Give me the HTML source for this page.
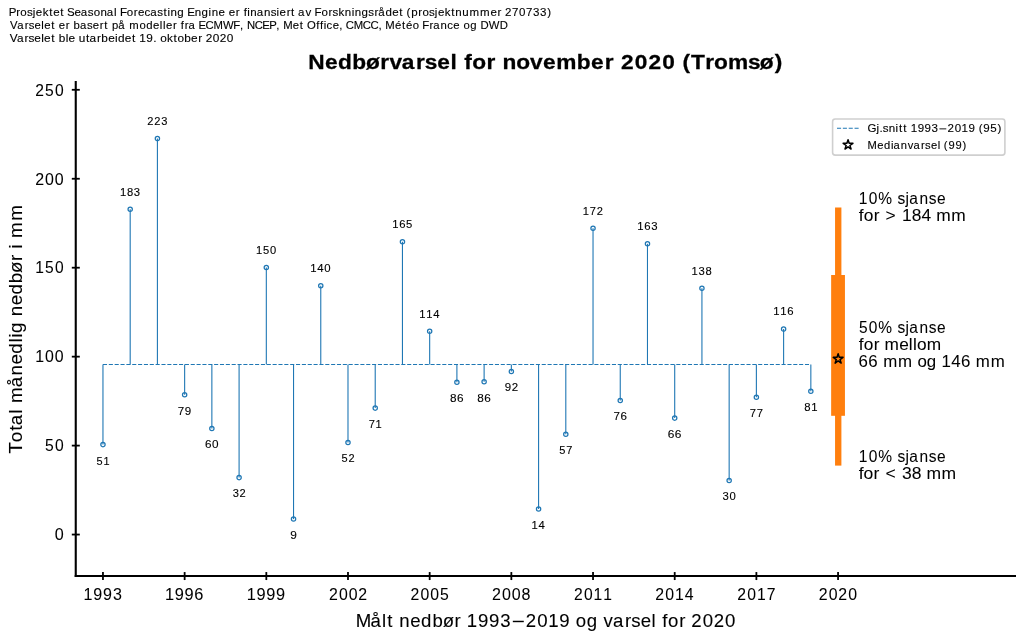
<!DOCTYPE html>
<html><head><meta charset="utf-8"><style>
html,body{margin:0;padding:0;background:#fff;}
svg{display:block;will-change:transform;}
text{font-family:"Liberation Sans", sans-serif;fill:#000;}
</style></head><body>
<svg width="1023" height="639" viewBox="0 0 1023 639">
<rect width="1023" height="639" fill="#fff"/>
<line x1="102.96" y1="364.5" x2="810.84" y2="364.5" stroke="#1f77b4" stroke-width="1.1" stroke-dasharray="4.08 1.77"/>
<line x1="102.96" y1="364.5" x2="102.96" y2="444.60" stroke="#1f77b4" stroke-width="1.1"/>
<line x1="130.19" y1="364.5" x2="130.19" y2="209.30" stroke="#1f77b4" stroke-width="1.1"/>
<line x1="157.41" y1="364.5" x2="157.41" y2="138.60" stroke="#1f77b4" stroke-width="1.1"/>
<line x1="184.64" y1="364.5" x2="184.64" y2="394.80" stroke="#1f77b4" stroke-width="1.1"/>
<line x1="211.86" y1="364.5" x2="211.86" y2="428.50" stroke="#1f77b4" stroke-width="1.1"/>
<line x1="239.09" y1="364.5" x2="239.09" y2="477.60" stroke="#1f77b4" stroke-width="1.1"/>
<line x1="266.32" y1="364.5" x2="266.32" y2="267.40" stroke="#1f77b4" stroke-width="1.1"/>
<line x1="293.54" y1="364.5" x2="293.54" y2="519.10" stroke="#1f77b4" stroke-width="1.1"/>
<line x1="320.77" y1="364.5" x2="320.77" y2="285.80" stroke="#1f77b4" stroke-width="1.1"/>
<line x1="347.99" y1="364.5" x2="347.99" y2="442.50" stroke="#1f77b4" stroke-width="1.1"/>
<line x1="375.22" y1="364.5" x2="375.22" y2="408.10" stroke="#1f77b4" stroke-width="1.1"/>
<line x1="402.45" y1="364.5" x2="402.45" y2="241.70" stroke="#1f77b4" stroke-width="1.1"/>
<line x1="429.67" y1="364.5" x2="429.67" y2="331.20" stroke="#1f77b4" stroke-width="1.1"/>
<line x1="456.90" y1="364.5" x2="456.90" y2="382.20" stroke="#1f77b4" stroke-width="1.1"/>
<line x1="484.12" y1="364.5" x2="484.12" y2="381.80" stroke="#1f77b4" stroke-width="1.1"/>
<line x1="511.35" y1="364.5" x2="511.35" y2="371.50" stroke="#1f77b4" stroke-width="1.1"/>
<line x1="538.58" y1="364.5" x2="538.58" y2="508.90" stroke="#1f77b4" stroke-width="1.1"/>
<line x1="565.80" y1="364.5" x2="565.80" y2="434.20" stroke="#1f77b4" stroke-width="1.1"/>
<line x1="593.03" y1="364.5" x2="593.03" y2="228.30" stroke="#1f77b4" stroke-width="1.1"/>
<line x1="620.25" y1="364.5" x2="620.25" y2="400.40" stroke="#1f77b4" stroke-width="1.1"/>
<line x1="647.48" y1="364.5" x2="647.48" y2="243.80" stroke="#1f77b4" stroke-width="1.1"/>
<line x1="674.71" y1="364.5" x2="674.71" y2="418.10" stroke="#1f77b4" stroke-width="1.1"/>
<line x1="701.93" y1="364.5" x2="701.93" y2="288.20" stroke="#1f77b4" stroke-width="1.1"/>
<line x1="729.16" y1="364.5" x2="729.16" y2="480.50" stroke="#1f77b4" stroke-width="1.1"/>
<line x1="756.38" y1="364.5" x2="756.38" y2="397.20" stroke="#1f77b4" stroke-width="1.1"/>
<line x1="783.61" y1="364.5" x2="783.61" y2="329.10" stroke="#1f77b4" stroke-width="1.1"/>
<line x1="810.84" y1="364.5" x2="810.84" y2="391.20" stroke="#1f77b4" stroke-width="1.1"/>
<circle cx="102.96" cy="444.60" r="2.15" fill="none" stroke="#1f77b4" stroke-width="1.25"/>
<circle cx="130.19" cy="209.30" r="2.15" fill="none" stroke="#1f77b4" stroke-width="1.25"/>
<circle cx="157.41" cy="138.60" r="2.15" fill="none" stroke="#1f77b4" stroke-width="1.25"/>
<circle cx="184.64" cy="394.80" r="2.15" fill="none" stroke="#1f77b4" stroke-width="1.25"/>
<circle cx="211.86" cy="428.50" r="2.15" fill="none" stroke="#1f77b4" stroke-width="1.25"/>
<circle cx="239.09" cy="477.60" r="2.15" fill="none" stroke="#1f77b4" stroke-width="1.25"/>
<circle cx="266.32" cy="267.40" r="2.15" fill="none" stroke="#1f77b4" stroke-width="1.25"/>
<circle cx="293.54" cy="519.10" r="2.15" fill="none" stroke="#1f77b4" stroke-width="1.25"/>
<circle cx="320.77" cy="285.80" r="2.15" fill="none" stroke="#1f77b4" stroke-width="1.25"/>
<circle cx="347.99" cy="442.50" r="2.15" fill="none" stroke="#1f77b4" stroke-width="1.25"/>
<circle cx="375.22" cy="408.10" r="2.15" fill="none" stroke="#1f77b4" stroke-width="1.25"/>
<circle cx="402.45" cy="241.70" r="2.15" fill="none" stroke="#1f77b4" stroke-width="1.25"/>
<circle cx="429.67" cy="331.20" r="2.15" fill="none" stroke="#1f77b4" stroke-width="1.25"/>
<circle cx="456.90" cy="382.20" r="2.15" fill="none" stroke="#1f77b4" stroke-width="1.25"/>
<circle cx="484.12" cy="381.80" r="2.15" fill="none" stroke="#1f77b4" stroke-width="1.25"/>
<circle cx="511.35" cy="371.50" r="2.15" fill="none" stroke="#1f77b4" stroke-width="1.25"/>
<circle cx="538.58" cy="508.90" r="2.15" fill="none" stroke="#1f77b4" stroke-width="1.25"/>
<circle cx="565.80" cy="434.20" r="2.15" fill="none" stroke="#1f77b4" stroke-width="1.25"/>
<circle cx="593.03" cy="228.30" r="2.15" fill="none" stroke="#1f77b4" stroke-width="1.25"/>
<circle cx="620.25" cy="400.40" r="2.15" fill="none" stroke="#1f77b4" stroke-width="1.25"/>
<circle cx="647.48" cy="243.80" r="2.15" fill="none" stroke="#1f77b4" stroke-width="1.25"/>
<circle cx="674.71" cy="418.10" r="2.15" fill="none" stroke="#1f77b4" stroke-width="1.25"/>
<circle cx="701.93" cy="288.20" r="2.15" fill="none" stroke="#1f77b4" stroke-width="1.25"/>
<circle cx="729.16" cy="480.50" r="2.15" fill="none" stroke="#1f77b4" stroke-width="1.25"/>
<circle cx="756.38" cy="397.20" r="2.15" fill="none" stroke="#1f77b4" stroke-width="1.25"/>
<circle cx="783.61" cy="329.10" r="2.15" fill="none" stroke="#1f77b4" stroke-width="1.25"/>
<circle cx="810.84" cy="391.20" r="2.15" fill="none" stroke="#1f77b4" stroke-width="1.25"/>
<rect x="835.05" y="207.5" width="6.35" height="258.10" fill="#ff7f0e"/>
<rect x="831.15" y="275.0" width="13.8" height="140.80" fill="#ff7f0e"/>
<polygon points="838.15,353.80 839.31,357.36 843.05,357.36 840.02,359.56 841.18,363.12 838.15,360.92 835.12,363.12 836.28,359.56 833.25,357.36 836.99,357.36" fill="none" stroke="#000" stroke-width="1.5" stroke-linejoin="round"/>
<line x1="75.75" y1="81" x2="75.75" y2="577.1" stroke="#000" stroke-width="2.1"/>
<line x1="74.7" y1="576.05" x2="1016" y2="576.05" stroke="#000" stroke-width="2.1"/>
<line x1="71.8" y1="534.55" x2="79.8" y2="534.55" stroke="#000" stroke-width="1.8"/>
<line x1="71.8" y1="445.60" x2="79.8" y2="445.60" stroke="#000" stroke-width="1.8"/>
<line x1="71.8" y1="356.65" x2="79.8" y2="356.65" stroke="#000" stroke-width="1.8"/>
<line x1="71.8" y1="267.70" x2="79.8" y2="267.70" stroke="#000" stroke-width="1.8"/>
<line x1="71.8" y1="178.75" x2="79.8" y2="178.75" stroke="#000" stroke-width="1.8"/>
<line x1="71.8" y1="89.80" x2="79.8" y2="89.80" stroke="#000" stroke-width="1.8"/>
<line x1="102.96" y1="572.05" x2="102.96" y2="580.05" stroke="#000" stroke-width="1.8"/>
<line x1="184.64" y1="572.05" x2="184.64" y2="580.05" stroke="#000" stroke-width="1.8"/>
<line x1="266.32" y1="572.05" x2="266.32" y2="580.05" stroke="#000" stroke-width="1.8"/>
<line x1="347.99" y1="572.05" x2="347.99" y2="580.05" stroke="#000" stroke-width="1.8"/>
<line x1="429.67" y1="572.05" x2="429.67" y2="580.05" stroke="#000" stroke-width="1.8"/>
<line x1="511.35" y1="572.05" x2="511.35" y2="580.05" stroke="#000" stroke-width="1.8"/>
<line x1="593.03" y1="572.05" x2="593.03" y2="580.05" stroke="#000" stroke-width="1.8"/>
<line x1="674.71" y1="572.05" x2="674.71" y2="580.05" stroke="#000" stroke-width="1.8"/>
<line x1="756.38" y1="572.05" x2="756.38" y2="580.05" stroke="#000" stroke-width="1.8"/>
<line x1="838.06" y1="572.05" x2="838.06" y2="580.05" stroke="#000" stroke-width="1.8"/>
<rect x="832.6" y="119.05" width="172.3" height="36.05" rx="2.6" ry="2.6" fill="#ffffff" fill-opacity="0.8" stroke="#cfcfcf" stroke-width="1.6"/>
<line x1="837.0" y1="128.3" x2="858.9" y2="128.3" stroke="#1f77b4" stroke-width="1.1" stroke-dasharray="4.08 1.77"/>
<polygon points="848.05,139.75 849.21,143.31 852.95,143.31 849.92,145.51 851.08,149.07 848.05,146.87 845.02,149.07 846.18,145.51 843.15,143.31 846.89,143.31" fill="none" stroke="#000" stroke-width="1.5" stroke-linejoin="round"/>
<text transform="translate(9.13 15.50) scale(1.0051 1)" x="-0.37 7.09 11.17 17.72 23.50 26.54 33.42 39.86 43.80 50.82 54.57 57.71 65.11 71.35 78.33 84.09 90.88 97.23 104.40 107.18 110.24 117.03 124.08 128.19 134.70 140.42 147.39 153.53 157.52 160.58 167.39 174.10 177.12 184.70 191.51 198.46 201.52 208.31 214.82 218.45 225.50 229.44 233.36 236.97 240.02 246.37 253.58 260.24 266.10 269.06 276.10 280.55 284.31 287.49 294.78 300.86 303.92 310.71 317.76 321.74 327.73 333.94 340.79 343.85 350.66 357.41 363.57 367.23 374.36 381.25 388.27 392.03 395.40 400.05 407.16 411.24 417.79 423.57 426.61 433.49 439.93 443.97 450.81 458.02 468.61 478.84 485.88 489.82 493.40 500.44 507.38 514.28 521.23 528.15 535.29" y="0" font-size="11.48" stroke="#000" stroke-width="0.120">Prosjektet Seasonal Forecasting Engine er finansiert av Forskningsrådet (prosjektnummer 270733)</text>
<text transform="translate(9.91 29.40) scale(0.9868 1)" x="-0.04 7.37 14.95 19.01 24.93 31.77 34.82 41.94 45.74 49.50 56.66 60.63 64.54 70.97 78.06 83.97 91.13 95.65 99.45 103.36 109.79 116.78 120.95 131.29 138.13 145.14 151.98 155.06 158.11 165.27 169.24 173.26 177.24 181.00 188.00 191.16 198.18 206.25 215.87 226.42 233.18 236.65 240.17 248.12 255.83 262.89 269.92 273.39 276.91 286.70 293.83 297.62 301.04 310.36 314.26 317.93 320.78 327.07 333.69 337.16 340.34 348.42 357.63 365.37 373.49 376.96 380.48 390.28 397.40 401.43 408.21 414.79 417.97 425.26 429.02 436.36 443.08 449.37 455.94 459.66 466.50 473.27 476.93 485.38 496.41" y="0" font-size="11.48" stroke="#000" stroke-width="0.120">Varselet er basert på modeller fra ECMWF, NCEP, Met Office, CMCC, Météo France og DWD</text>
<text transform="translate(9.91 41.50) scale(1.0300 1)" x="-0.20 6.91 14.23 18.10 23.75 30.38 33.23 40.12 43.82 47.43 54.13 56.97 63.41 66.93 73.96 77.32 84.64 88.77 95.36 102.00 104.86 111.58 118.47 122.17 125.67 132.44 139.13 142.42 145.85 152.56 158.89 162.65 169.32 175.92 182.82 186.71 190.13 197.02 203.63 210.52" y="0" font-size="11.48" stroke="#000" stroke-width="0.120">Varselet ble utarbeidet 19. oktober 2020</text>
<text transform="translate(308.19 68.75) scale(1.0981 1)" x="0.04 15.22 27.15 40.16 52.64 65.69 74.03 85.22 98.29 106.21 117.42 129.55 135.48 142.22 149.35 162.41 170.65 176.96 189.48 202.05 213.85 225.91 244.63 257.49 270.01 278.24 284.95 297.44 309.88 322.37 334.33 340.77 348.55 361.57 369.65 382.26 400.47 411.29 424.86" y="0" font-size="20.65" font-weight="bold" stroke="#000" stroke-width="0.270">Nedbørvarsel for november 2020 (Tromsø)</text>
<text transform="translate(96.09 464.80) scale(0.9529 1)" x="0.41 7.70" y="0" font-size="11.48" stroke="#000" stroke-width="0.120">51</text>
<text transform="translate(119.59 196.00) scale(0.9798 1)" x="0.30 7.45 14.56" y="0" font-size="11.48" stroke="#000" stroke-width="0.120">183</text>
<text transform="translate(147.02 124.90) scale(0.9665 1)" x="0.25 7.45 14.81" y="0" font-size="11.48" stroke="#000" stroke-width="0.120">223</text>
<text transform="translate(177.62 414.60) scale(1.0097 1)" x="0.23 7.10" y="0" font-size="11.48" stroke="#000" stroke-width="0.120">79</text>
<text transform="translate(204.89 448.20) scale(1.0212 1)" x="0.21 7.02" y="0" font-size="11.48" stroke="#000" stroke-width="0.120">60</text>
<text transform="translate(232.27 497.30) scale(0.9659 1)" x="0.42 7.46" y="0" font-size="11.48" stroke="#000" stroke-width="0.120">32</text>
<text transform="translate(255.65 253.90) scale(0.9705 1)" x="0.33 7.51 14.72" y="0" font-size="11.48" stroke="#000" stroke-width="0.120">150</text>
<text transform="translate(290.11 538.80) scale(1.0369 1)" x="0.13" y="0" font-size="11.48" stroke="#000" stroke-width="0.120">9</text>
<text transform="translate(310.10 271.90) scale(0.9902 1)" x="0.26 7.34 14.36" y="0" font-size="11.48" stroke="#000" stroke-width="0.120">140</text>
<text transform="translate(341.17 462.20) scale(0.9574 1)" x="0.39 7.55" y="0" font-size="11.48" stroke="#000" stroke-width="0.120">52</text>
<text transform="translate(368.32 428.10) scale(0.9708 1)" x="0.37 7.50" y="0" font-size="11.48" stroke="#000" stroke-width="0.120">71</text>
<text transform="translate(391.89 228.20) scale(0.9820 1)" x="0.29 7.43 14.47" y="0" font-size="11.48" stroke="#000" stroke-width="0.120">165</text>
<text transform="translate(418.95 318.00) scale(0.9755 1)" x="0.31 7.44 14.63" y="0" font-size="11.48" stroke="#000" stroke-width="0.120">114</text>
<text transform="translate(449.92 401.90) scale(1.0268 1)" x="0.19 6.96" y="0" font-size="11.48" stroke="#000" stroke-width="0.120">86</text>
<text transform="translate(477.14 401.50) scale(1.0268 1)" x="0.19 6.96" y="0" font-size="11.48" stroke="#000" stroke-width="0.120">86</text>
<text transform="translate(504.60 390.90) scale(1.0026 1)" x="0.24 7.07" y="0" font-size="11.48" stroke="#000" stroke-width="0.120">92</text>
<text transform="translate(531.33 528.90) scale(0.9832 1)" x="0.29 7.41" y="0" font-size="11.48" stroke="#000" stroke-width="0.120">14</text>
<text transform="translate(558.89 454.00) scale(0.9644 1)" x="0.37 7.60" y="0" font-size="11.48" stroke="#000" stroke-width="0.120">57</text>
<text transform="translate(582.54 215.20) scale(0.9697 1)" x="0.34 7.54 14.59" y="0" font-size="11.48" stroke="#000" stroke-width="0.120">172</text>
<text transform="translate(613.20 419.90) scale(1.0108 1)" x="0.22 7.13" y="0" font-size="11.48" stroke="#000" stroke-width="0.120">76</text>
<text transform="translate(636.89 229.80) scale(0.9878 1)" x="0.27 7.37 14.42" y="0" font-size="11.48" stroke="#000" stroke-width="0.120">163</text>
<text transform="translate(667.71 437.80) scale(1.0391 1)" x="0.15 6.84" y="0" font-size="11.48" stroke="#000" stroke-width="0.120">66</text>
<text transform="translate(691.27 274.90) scale(0.9798 1)" x="0.30 7.47 14.55" y="0" font-size="11.48" stroke="#000" stroke-width="0.120">138</text>
<text transform="translate(722.15 500.00) scale(0.9841 1)" x="0.35 7.41" y="0" font-size="11.48" stroke="#000" stroke-width="0.120">30</text>
<text transform="translate(749.45 416.70) scale(0.9820 1)" x="0.32 7.41" y="0" font-size="11.48" stroke="#000" stroke-width="0.120">77</text>
<text transform="translate(772.92 315.30) scale(0.9868 1)" x="0.27 7.32 14.42" y="0" font-size="11.48" stroke="#000" stroke-width="0.120">116</text>
<text transform="translate(804.02 410.80) scale(0.9880 1)" x="0.33 7.31" y="0" font-size="11.48" stroke="#000" stroke-width="0.120">81</text>
<text transform="translate(54.38 540.30) scale(1.0039 1)" x="0.38" y="0" font-size="16.07" stroke="#000" stroke-width="0.050">0</text>
<text transform="translate(44.65 451.35) scale(0.9758 1)" x="0.46 10.49" y="0" font-size="16.07" stroke="#000" stroke-width="0.050">50</text>
<text transform="translate(34.91 362.40) scale(0.9899 1)" x="0.37 10.28 20.11" y="0" font-size="16.07" stroke="#000" stroke-width="0.050">100</text>
<text transform="translate(34.91 273.45) scale(0.9705 1)" x="0.47 10.51 20.60" y="0" font-size="16.07" stroke="#000" stroke-width="0.050">150</text>
<text transform="translate(34.91 184.50) scale(0.9922 1)" x="0.23 10.24 20.06" y="0" font-size="16.07" stroke="#000" stroke-width="0.050">200</text>
<text transform="translate(34.91 95.55) scale(0.9732 1)" x="0.32 10.47 20.54" y="0" font-size="16.07" stroke="#000" stroke-width="0.050">250</text>
<text transform="translate(83.26 599.80) scale(0.9997 1)" x="0.32 10.09 19.82 29.63" y="0" font-size="16.07" stroke="#000" stroke-width="0.050">1993</text>
<text transform="translate(164.81 599.80) scale(1.0189 1)" x="0.22 9.81 19.36 28.97" y="0" font-size="16.07" stroke="#000" stroke-width="0.050">1996</text>
<text transform="translate(246.54 599.80) scale(1.0184 1)" x="0.22 9.82 19.38 28.94" y="0" font-size="16.07" stroke="#000" stroke-width="0.050">1999</text>
<text transform="translate(328.73 599.80) scale(0.9863 1)" x="0.26 10.33 20.20 29.87" y="0" font-size="16.07" stroke="#000" stroke-width="0.050">2002</text>
<text transform="translate(410.31 599.80) scale(0.9810 1)" x="0.28 10.41 20.34 30.20" y="0" font-size="16.07" stroke="#000" stroke-width="0.050">2005</text>
<text transform="translate(491.84 599.80) scale(0.9979 1)" x="0.20 10.16 19.92 29.67" y="0" font-size="16.07" stroke="#000" stroke-width="0.050">2008</text>
<text transform="translate(573.71 599.80) scale(0.9731 1)" x="0.32 10.53 20.46 30.46" y="0" font-size="16.07" stroke="#000" stroke-width="0.050">2011</text>
<text transform="translate(655.11 599.80) scale(0.9847 1)" x="0.27 10.36 20.16 30.13" y="0" font-size="16.07" stroke="#000" stroke-width="0.050">2014</text>
<text transform="translate(737.01 599.80) scale(0.9787 1)" x="0.30 10.45 20.32 30.31" y="0" font-size="16.07" stroke="#000" stroke-width="0.050">2017</text>
<text transform="translate(818.54 599.80) scale(0.9863 1)" x="0.26 10.33 20.00 30.07" y="0" font-size="16.07" stroke="#000" stroke-width="0.050">2020</text>
<rect x="512.83" y="620.75" width="10.95" height="1.45" fill="#000"/>
<text transform="translate(355.88 626.96) scale(1.0146 1)" x="-0.21 14.39 25.79 31.01 36.99 42.86 53.62 64.26 75.41 85.56 97.24 103.52 109.27 120.28 131.25 142.30 154.72 167.46 178.65 189.53 200.53 211.18 216.83 227.47 238.15 244.14 253.35 265.21 271.51 280.70 291.43 295.86 302.04 307.58 318.77 325.04 330.67 341.87 352.61 363.80" y="0" font-size="18.36" stroke="#000" stroke-width="0.090">Målt nedbør 1993 2019 og varsel for 2020</text>
<g transform="translate(22.1 453.00) rotate(-90)">
<text transform="translate(0.00 0.00) scale(1.0258 1)" x="-0.40 10.53 21.59 27.00 38.31 42.72 48.84 64.21 75.53 86.17 96.70 107.64 112.39 116.99 127.61 133.36 144.01 154.53 165.55 175.59 187.17 193.41 199.17 203.57 209.69 226.30" y="0" font-size="18.36" stroke="#000" stroke-width="0.090">Total månedlig nedbør i mm</text>
</g>
<rect x="939.44" y="128.42" width="6.84" height="0.91" fill="#000"/>
<text transform="translate(867.79 132.30) scale(1.0082 1)" x="-0.26 8.55 11.54 14.89 20.78 27.62 30.89 35.14 38.89 42.53 49.46 56.35 63.30 71.12 79.13 86.17 93.00 99.93 106.60 109.96 114.50 121.39 128.57" y="0" font-size="11.48" stroke="#000" stroke-width="0.120">Gj.snitt 1993 2019 (95)</text>
<text transform="translate(867.53 148.80) scale(0.9731 1)" x="0.07 9.98 16.90 24.02 26.69 34.13 41.31 47.34 55.01 59.14 65.14 72.05 74.89 78.45 83.18 90.33 97.70" y="0" font-size="11.48" stroke="#000" stroke-width="0.120">Medianvarsel (99)</text>
<text transform="translate(858.40 203.80) scale(0.9653 1)" x="0.49 10.66 20.56 35.23 40.49 48.80 52.73 63.23 72.91 81.39" y="0" font-size="16.07" stroke="#000" stroke-width="0.050">10% sjanse</text>
<text transform="translate(858.40 221.00) scale(1.0814 1)" x="0.43 4.85 14.11 19.45 25.18 35.81 40.24 49.34 58.34 67.31 72.04 85.83" y="0" font-size="16.07" stroke="#000" stroke-width="0.050">for &gt; 184 mm</text>
<text transform="translate(858.40 332.80) scale(0.9639 1)" x="0.52 10.68 20.60 35.28 40.55 48.86 52.81 63.33 73.02 81.51" y="0" font-size="16.07" stroke="#000" stroke-width="0.050">50% sjanse</text>
<text transform="translate(858.40 349.90) scale(1.0745 1)" x="0.45 4.90 14.22 19.58 24.39 37.92 46.93 50.88 54.54 63.64" y="0" font-size="16.07" stroke="#000" stroke-width="0.050">for mellom</text>
<text transform="translate(858.40 367.00) scale(1.0494 1)" x="0.17 9.44 18.55 23.64 37.84 51.59 56.22 65.23 74.40 79.11 88.48 97.75 106.86 111.95 126.15" y="0" font-size="16.07" stroke="#000" stroke-width="0.050">66 mm og 146 mm</text>
<text transform="translate(858.40 461.90) scale(0.9653 1)" x="0.49 10.66 20.56 35.23 40.49 48.80 52.73 63.23 72.91 81.39" y="0" font-size="16.07" stroke="#000" stroke-width="0.050">10% sjanse</text>
<text transform="translate(858.40 478.90) scale(1.0909 1)" x="0.41 4.76 13.96 19.29 24.92 35.50 39.97 48.87 57.80 62.44 76.10" y="0" font-size="16.07" stroke="#000" stroke-width="0.050">for &lt; 38 mm</text>
</svg>
</body></html>
